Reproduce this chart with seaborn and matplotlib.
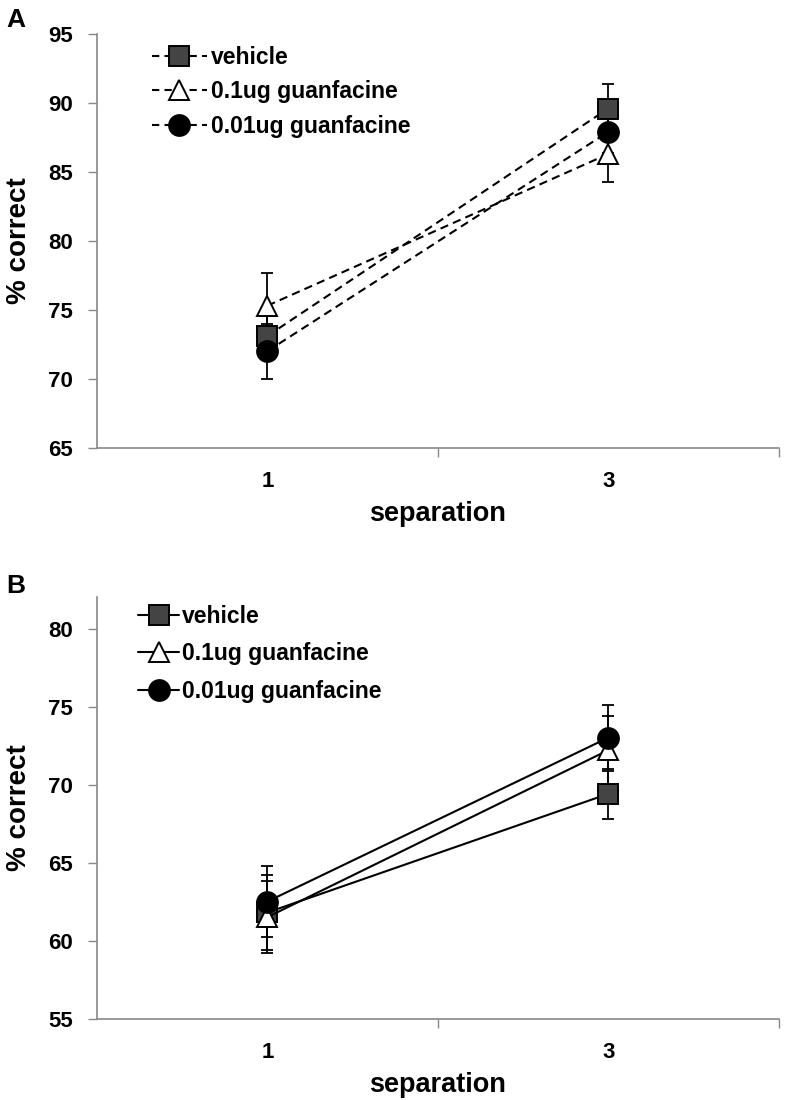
import numpy as np
import pandas as pd
import matplotlib
matplotlib.use("Agg")
import matplotlib.pyplot as plt
import seaborn as sns

# ---- data ----
separation = ["1", "3"]
series = ["vehicle", "0.1ug guanfacine", "0.01ug guanfacine"]

a_vehicle = [73.1, 89.6]
a_low = [75.3, 86.3]
a_lower = [72.0, 87.9]
a_vehicle_err = [1.5, 1.8]
a_low_err = [2.4, 2.0]
a_lower_err = [2.0, 1.5]

b_vehicle = [61.8, 69.4]
b_low = [61.5, 72.2]
b_lower = [62.5, 73.0]
b_vehicle_err = [2.4, 1.6]
b_low_err = [2.3, 2.2]
b_lower_err = [2.3, 2.1]

sns.set_style("white")
plt.rcParams['font.family'] = ['Liberation Sans', 'DejaVu Sans']
plt.rcParams['text.color'] = 'black'
plt.rcParams['axes.labelcolor'] = 'black'

# marker styles per series
styles = {
    "vehicle": dict(marker="s", markersize=14.5, markerfacecolor="#444444"),
    "0.1ug guanfacine": dict(marker="^", markersize=15, markerfacecolor="white"),
    "0.01ug guanfacine": dict(marker="o", markersize=15, markerfacecolor="black"),
}

fig = plt.figure(figsize=(7.88, 11), dpi=100)
axA = fig.add_axes([0.123, 0.593, 0.865, 0.376])
axB = fig.add_axes([0.123, 0.074, 0.865, 0.383])


def draw_panel(ax, vals, errs, ls, ylim, yticks):
    pos = [0.5, 1.5]
    for name, v in zip(series, vals):
        df = pd.DataFrame({"pos": pos, "val": v})
        sns.lineplot(data=df, x="pos", y="val", ax=ax, color="black",
                     linewidth=1.5, markeredgecolor="black", markeredgewidth=1.4,
                     label=name, zorder=3, **styles[name])
    for l in ax.get_lines():
        l.set_linestyle(ls)
    for name, v, e in zip(series, vals, errs):
        ax.errorbar(pos, v, yerr=e, fmt="none", ecolor="black", elinewidth=1.3,
                    capsize=4.5, capthick=1.3, zorder=2)
    ax.set_xlim(0, 2)
    ax.set_ylim(*ylim)
    ax.set_yticks(yticks)
    ax.set_xticks(pos)
    ax.set_xticklabels(separation)
    ax.set_xticks([1, 2], minor=True)
    ax.tick_params(axis="x", which="major", bottom=False, length=0, pad=17,
                   labelsize=16, labelcolor="black")
    ax.tick_params(axis="x", which="minor", bottom=True, length=6.5, width=1,
                   color="#888888", direction="out")
    ax.tick_params(axis="y", left=True, length=6.5, width=1, color="#888888",
                   direction="out", labelsize=16, pad=11, labelcolor="black")
    for lab in ax.get_xticklabels() + ax.get_yticklabels():
        lab.set_fontweight("bold")
    for s in ["top", "right"]:
        ax.spines[s].set_visible(False)
    for s in ["left", "bottom"]:
        ax.spines[s].set_color("#888888")
        ax.spines[s].set_linewidth(1.2)
    ax.set_xlabel("separation", fontsize=19.5, fontweight="bold", labelpad=6)
    ax.set_ylabel("% correct", fontsize=20, fontweight="bold", labelpad=11)


draw_panel(axA, [a_vehicle, a_low, a_lower], [a_vehicle_err, a_low_err, a_lower_err],
           (0, (4, 2.5)), (65, 95), [65, 70, 75, 80, 85, 90, 95])
legA = axA.legend(loc="upper left", bbox_to_anchor=(0.05, 1.022), frameon=False,
                  prop=dict(size=16.5, weight="bold"), handlelength=2.4,
                  handletextpad=0.2, labelspacing=0.5)
for l in legA.get_lines():
    l.set_linestyle((0, (3.5, 2.5)))

draw_panel(axB, [b_vehicle, b_low, b_lower], [b_vehicle_err, b_low_err, b_lower_err],
           "-", (55, 82), [55, 60, 65, 70, 75, 80])
legB = axB.legend(loc="upper left", bbox_to_anchor=(0.03, 1.03), frameon=False,
                  prop=dict(size=16.5, weight="bold"), handlelength=1.8,
                  handletextpad=0.12, labelspacing=0.62)

fig.text(0.008, 0.993, "A", fontsize=19, fontweight="bold", va="top")
fig.text(0.008, 0.478, "B", fontsize=19, fontweight="bold", va="top")

fig.savefig("out.png", dpi=100)
